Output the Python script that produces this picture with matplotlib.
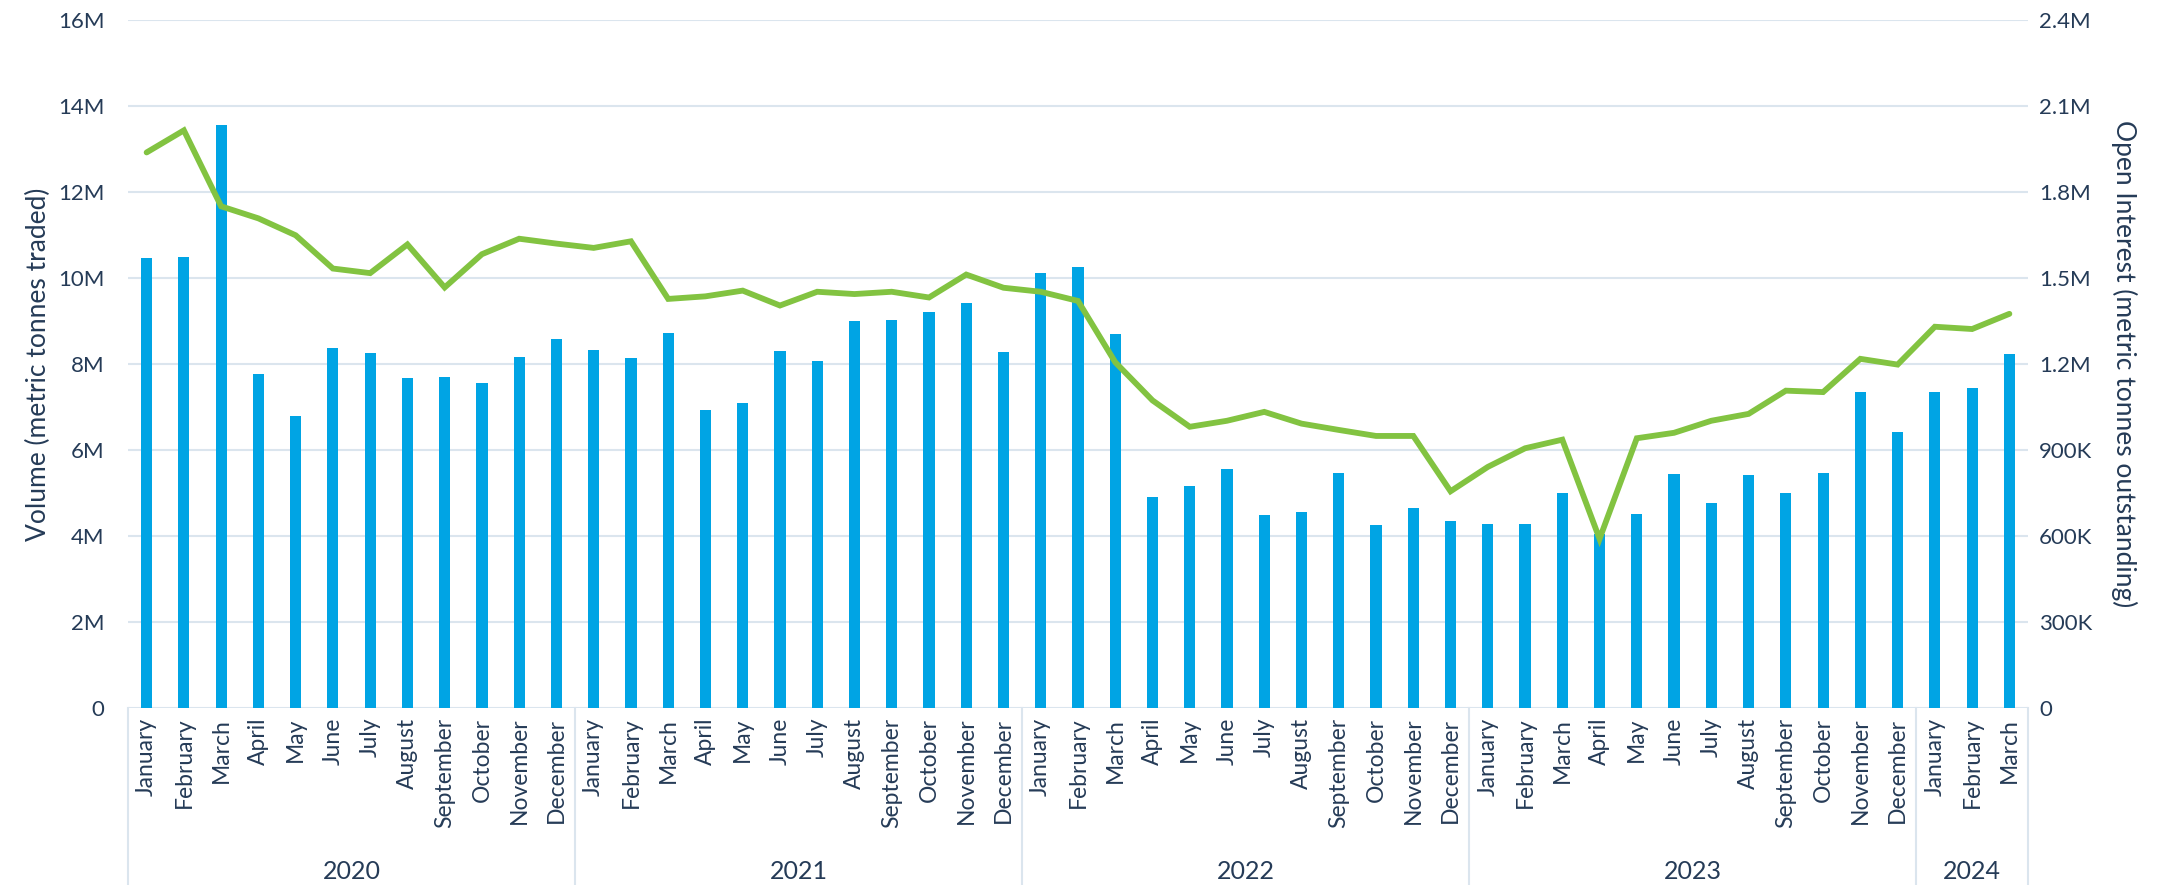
"""Monthly traded volume (bars) and open interest (line), Jan 2020 - Mar 2024."""

import matplotlib
matplotlib.use("Agg")
import matplotlib.pyplot as plt
import matplotlib.transforms as mtransforms
from matplotlib.ticker import FuncFormatter

MONTHS = ["January", "February", "March", "April", "May", "June", "July",
          "August", "September", "October", "November", "December"]
YEARS = ["2020", "2021", "2022", "2023", "2024"]
MONTHS_PER_YEAR = [12, 12, 12, 12, 3]

# volume, million metric tonnes traded
volume_m = [
    10.46, 10.48, 13.55, 7.77, 6.79, 8.38, 8.26, 7.67, 7.70, 7.56, 8.17, 8.57,   # 2020
    8.33, 8.15, 8.71, 6.93, 7.10, 8.31, 8.06, 8.99, 9.03, 9.20, 9.43, 8.28,      # 2021
    10.12, 10.26, 8.69, 4.90, 5.16, 5.55, 4.50, 4.55, 5.47, 4.25, 4.65, 4.36,    # 2022
    4.27, 4.27, 5.01, 4.05, 4.51, 5.45, 4.77, 5.42, 5.00, 5.46, 7.35, 6.42,      # 2023
    7.36, 7.45, 8.23,                                                            # 2024
]
# open interest, million metric tonnes outstanding
open_interest_m = [
    1.938, 2.015, 1.750, 1.708, 1.649, 1.533, 1.517, 1.617, 1.467, 1.583, 1.637, 1.620,
    1.605, 1.628, 1.427, 1.436, 1.456, 1.404, 1.452, 1.444, 1.452, 1.432, 1.512, 1.466,
    1.452, 1.420, 1.206, 1.073, 0.981, 1.002, 1.033, 0.992, 0.970, 0.949, 0.949, 0.756,
    0.841, 0.906, 0.936, 0.590, 0.941, 0.960, 1.002, 1.026, 1.107, 1.102, 1.218, 1.198,
    1.330, 1.322, 1.375,
]

BAR = "#00a4e4"
LINE = "#82c341"
TEXT = "#253b57"
GRID = "#dbe5ee"

plt.rcParams["font.family"] = ["Lato", "DejaVu Sans"]
plt.rcParams["font.size"] = 16

month_labels = []
for n in MONTHS_PER_YEAR:
    month_labels += MONTHS[:n]
x = list(range(len(volume_m)))

fig = plt.figure(figsize=(21.7, 8.85), dpi=100)
ax = fig.add_axes([128 / 2170, 1 - 708 / 885, 1900 / 2170, 688 / 885])
ax2 = ax.twinx()

ax.bar(x, [v * 1e6 for v in volume_m], width=0.30, color=BAR, zorder=2)
ax2.plot(x, [v * 1e6 for v in open_interest_m], color=LINE, lw=4.2,
         solid_joinstyle="miter", solid_capstyle="round", zorder=3)

ax.set_xlim(-0.5, len(x) - 0.5)
ax.set_ylim(0, 16e6)
ax2.set_ylim(0, 2.4e6)
ax.set_yticks([i * 2e6 for i in range(9)])
ax2.set_yticks([i * 3e5 for i in range(9)])


def fmt(v, _):
    if v == 0:
        return "0"
    if v >= 1e6:
        return f"{v / 1e6:g}M"
    return f"{v / 1e3:g}K"


ax.yaxis.set_major_formatter(FuncFormatter(fmt))
ax2.yaxis.set_major_formatter(FuncFormatter(fmt))

ax.grid(axis="y", color=GRID, lw=1.5)
ax.set_axisbelow(True)
for a in (ax, ax2):
    for s in a.spines.values():
        s.set_visible(False)
ax.tick_params(axis="y", length=0, pad=17, labelcolor=TEXT, labelsize=16)
ax2.tick_params(axis="y", length=0, pad=8, labelcolor=TEXT, labelsize=16)

ax.set_xticks(x)
ax.set_xticklabels(month_labels, rotation=90, va="top", ha="center")
ax.tick_params(axis="x", length=0, pad=7, labelcolor=TEXT, labelsize=16.5)

ax.set_ylabel("Volume (metric tonnes traded)", color=TEXT, fontsize=19, labelpad=5)
ax2.set_ylabel("Open Interest (metric tonnes outstanding)", color=TEXT, fontsize=19,
               rotation=270, labelpad=32)

# year group boxes under the month labels
trans = mtransforms.blended_transform_factory(ax.transData, ax.transAxes)
drop = -(885 - 708) / 688
start = 0
edges = [-0.5]
for yr, n in zip(YEARS, MONTHS_PER_YEAR):
    mid = start + (n - 1) / 2
    ax.text(mid, -0.238, yr, transform=trans, ha="center", va="center",
            color=TEXT, fontsize=18)
    start += n
    edges.append(start - 0.5)
for e in edges:
    ax.plot([e, e], [0, drop], transform=trans, color=GRID, lw=1.5, clip_on=False)

fig.savefig("out.png", dpi=100)
